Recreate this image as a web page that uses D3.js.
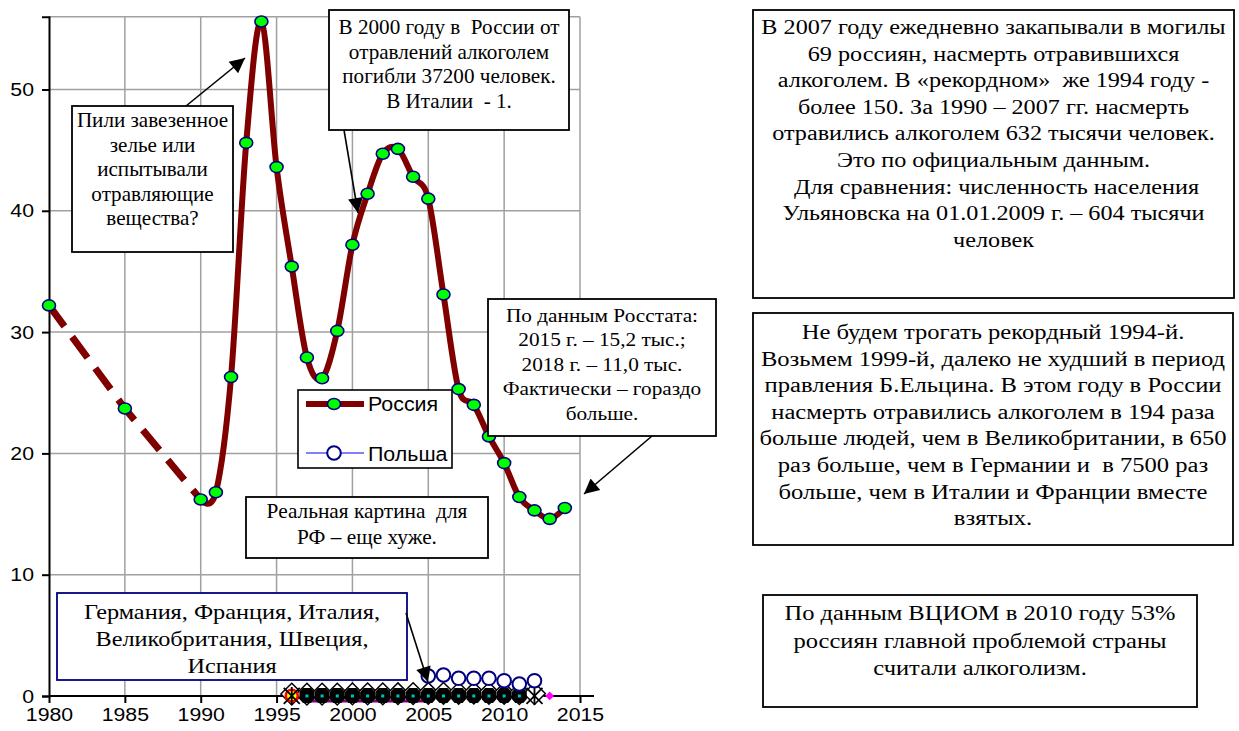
<!DOCTYPE html>
<html>
<head>
<meta charset="utf-8">
<script src="https://cdn.jsdelivr.net/npm/d3@7/dist/d3.min.js"></script>
<style>
  html, body { margin: 0; padding: 0; background: #fff; }
  svg { display: block; }
</style>
</head>
<body>
<svg id="chart" width="1239" height="731"></svg>
<script>
// ---- data: deaths from alcohol poisoning, thousand people ----
const russiaYears = [1980, 1985, 1990, 1991, 1992, 1993, 1994, 1995, 1996, 1997, 1998, 1999, 2000,
  2001, 2002, 2003, 2004, 2005, 2006, 2007, 2008, 2009, 2010, 2011, 2012, 2013, 2014];
const russiaValues = [32.2, 23.7, 16.2, 16.8, 26.3, 45.6, 55.6, 43.6, 35.4, 27.9, 26.2, 30.1, 37.2,
  41.4, 44.7, 45.1, 42.8, 41.0, 33.1, 25.3, 24.0, 21.4, 19.2, 16.4, 15.3, 14.6, 15.5];

const polandYears = [2005, 2006, 2007, 2008, 2009, 2010, 2011, 2012];
const polandValues = [1.65, 1.73, 1.46, 1.46, 1.46, 1.26, 0.99, 1.26];

// Western European countries (all close to zero)
const ukYears = [1996, 1997, 1998, 1999, 2000, 2001, 2002, 2003, 2004, 2005, 2006, 2007, 2008, 2009, 2010, 2011, 2012];
const ukValues = [0.16, 0.15, 0.16, 0.16, 0.17, 0.18, 0.18, 0.19, 0.2, 0.21, 0.22, 0.22, 0.23, 0.22, 0.21, 0.2, 0.2];
const germanyYears = [1997, 1998, 1999, 2000, 2001, 2002, 2003, 2004, 2005, 2006, 2007, 2008, 2009, 2010, 2011];
const germanyValues = [0.05, 0.05, 0.05, 0.05, 0.05, 0.05, 0.05, 0.05, 0.05, 0.05, 0.05, 0.05, 0.05, 0.05, 0.05];
const swedenYears = [1996];
const swedenValues = [0.03];
const franceYears = [1996, 2012];
const franceValues = [0.004, 0.004];
const italyYears = [1997, 1998, 1999, 2000, 2001, 2002, 2003, 2004, 2005, 2006, 2007, 2008, 2009, 2010, 2011, 2012];
const italyValues = [0.002, 0.002, 0.002, 0.002, 0.002, 0.002, 0.002, 0.002, 0.002, 0.002, 0.002, 0.002, 0.002, 0.002, 0.002, 0.002];
const spainYears = [1997, 1998, 1999, 2000, 2001, 2002, 2003, 2004, 2005, 2006, 2007, 2008, 2009, 2010, 2011, 2012, 2013];
const spainValues = [0.01, 0.01, 0.01, 0.01, 0.01, 0.01, 0.01, 0.01, 0.01, 0.01, 0.01, 0.01, 0.01, 0.01, 0.01, 0.01, 0.01];

const xTicks = [1980, 1985, 1990, 1995, 2000, 2005, 2010, 2015];
const yTicks = [0, 10, 20, 30, 40, 50];
const legendLabels = ["Россия", "Польша"];

// ---- annotation texts ----
const noteDrink = ["Пили завезенное", "зелье или", "испытывали", "отравляющие", "вещества?"];
const note2000 = ["В 2000 году в  России от", "отравлений алкоголем", "погибли 37200 человек.", "В Италии  - 1."];
const noteRosstat = ["По данным Росстата:", "2015 г. – 15,2 тыс.;", "2018 г. – 11,0 тыс.", "Фактически – гораздо", "больше."];
const noteReal = ["Реальная картина  для", "РФ – еще хуже."];
const noteEurope = ["Германия, Франция, Италия,", "Великобритания, Швеция,", "Испания"];
const note2007 = ["В 2007 году ежедневно закапывали в могилы", "69 россиян, насмерть отравившихся",
  "алкоголем. В «рекордном»  же 1994 году -", "более 150. За 1990 – 2007 гг. насмерть",
  "отравились алкоголем 632 тысячи человек.", "Это по официальным данным.",
  " Для сравнения: численность населения", "Ульяновска на 01.01.2009 г. – 604 тысячи", "человек"];
const note1999 = ["Не будем трогать рекордный 1994-й.", "Возьмем 1999-й, далеко не худший в период",
  "правления Б.Ельцина. В этом году в России", "насмерть отравились алкоголем в 194 раза",
  "больше людей, чем в Великобритании, в 650", "раз больше, чем в Германии и  в 7500 раз",
  "больше, чем в Италии и Франции вместе", "взятых."];
const noteVciom = ["По данным ВЦИОМ в 2010 году 53%", "россиян главной проблемой страны", "считали алкоголизм."];

// ---- layout ----
const svg = d3.select("#chart");
const plot = { left: 49, right: 580, top: 16.7, bottom: 696 };
const x = d3.scaleLinear().domain([1980, 2015]).range([plot.left, plot.right]);
const y = d3.scaleLinear().domain([0, 56]).range([plot.bottom, plot.top]);

const serif = "'Liberation Serif', 'Times New Roman', serif";
const sans = "'Liberation Sans', Arial, sans-serif";

// arrow head
svg.append("defs").append("marker")
  .attr("id", "arrow").attr("viewBox", "0 0 10 10")
  .attr("refX", 10).attr("refY", 5)
  .attr("markerWidth", 19).attr("markerHeight", 15)
  .attr("markerUnits", "userSpaceOnUse")
  .attr("orient", "auto")
  .append("path").attr("d", "M0,0 L10,5 L0,10 z").attr("fill", "#000");

// grid
const grid = svg.append("g").attr("stroke", "#a0a0a0").attr("stroke-width", 1.5);
grid.selectAll("line.v").data(xTicks.filter(d => d > 1980)).join("line")
  .attr("class", "v")
  .attr("x1", d => x(d)).attr("x2", d => x(d))
  .attr("y1", plot.top).attr("y2", plot.bottom);
grid.selectAll("line.h").data(yTicks.filter(d => d > 0).concat([56])).join("line")
  .attr("class", "h")
  .attr("x1", plot.left).attr("x2", plot.right)
  .attr("y1", d => y(d)).attr("y2", d => y(d));

// axes (labels slightly widened)
const tickSX = 1.12;
const yAxis = svg.append("g").attr("transform", `translate(${plot.left},0)`)
  .call(d3.axisLeft(y).tickValues(yTicks).tickSize(7).tickPadding(8).tickFormat(d3.format("d")));
const xAxis = svg.append("g").attr("transform", `translate(0,${plot.bottom})`)
  .call(d3.axisBottom(x).tickValues(xTicks).tickSize(7).tickPadding(5).tickFormat(d3.format("d")));
[yAxis, xAxis].forEach(a => {
  a.select(".domain").attr("stroke", "#000").attr("stroke-width", 2);
  a.selectAll(".tick line").attr("stroke", "#000").attr("stroke-width", 2);
  a.selectAll(".tick text").attr("font-family", sans).attr("font-size", 19).attr("fill", "#000")
    .attr("transform", `scale(${tickSX},1)`);
});
yAxis.selectAll(".tick text").attr("x", -15 / tickSX);
xAxis.select(".domain").attr("d", `M${plot.left},0H${plot.right + 14}`);

// ---- Western Europe, near zero ----
function seriesPoints(yrs, vals) { return yrs.map((d, i) => ({ yr: d, v: vals[i] })); }
const linePlain = d3.line().x(d => x(d.yr)).y(d => y(d.v));

const euro = svg.append("g");
// Spain: magenta dotted line with diamonds
euro.append("path").datum(seriesPoints(spainYears, spainValues))
  .attr("d", linePlain).attr("fill", "none").attr("stroke", "#ff00ff").attr("stroke-width", 2)
  .attr("stroke-dasharray", "2,3");
euro.selectAll("path.es").data(seriesPoints(spainYears, spainValues)).join("path")
  .attr("class", "es")
  .attr("d", d3.symbol(d3.symbolDiamond2, 50))
  .attr("transform", d => `translate(${x(d.yr)},${y(d.v)})`)
  .attr("fill", "#ff00ff");
// Italy: purple line under the markers
euro.append("path").datum(seriesPoints(italyYears.slice(0, 9), italyValues.slice(0, 9)))
  .attr("d", linePlain).attr("fill", "none").attr("stroke", "#800080").attr("stroke-width", 3)
  .attr("transform", "translate(0,5)");
// UK: white diamonds with black outline
euro.selectAll("path.uk").data(seriesPoints(ukYears, ukValues)).join("path")
  .attr("class", "uk")
  .attr("d", d3.symbol(d3.symbolDiamond2, 300))
  .attr("transform", d => `translate(${x(d.yr)},${y(d.v)})`)
  .attr("fill", "#fff").attr("stroke", "#000").attr("stroke-width", 1.5);
// Sweden: yellow/red circle
euro.selectAll("circle.se").data(seriesPoints(swedenYears, swedenValues)).join("circle")
  .attr("class", "se")
  .attr("cx", d => x(d.yr)).attr("cy", d => y(d.v)).attr("r", 6)
  .attr("fill", "#ffff00").attr("stroke", "#ff0000").attr("stroke-width", 2.5);
// Germany: black filled markers
euro.selectAll("path.de").data(seriesPoints(germanyYears, germanyValues)).join("path")
  .attr("class", "de")
  .attr("d", "M-4,-7.5H4L7.5,-3.5V3.5L4,7.5H-4L-7.5,3.5V-3.5Z")
  .attr("transform", d => `translate(${x(d.yr)},${y(d.v)})`)
  .attr("fill", "#000");
// Italy: cyan small squares
euro.selectAll("rect.it").data(seriesPoints(italyYears, italyValues)).join("rect")
  .attr("class", "it")
  .attr("x", d => x(d.yr) - 1.5).attr("y", d => y(d.v) - 1.5)
  .attr("width", 3).attr("height", 3).attr("fill", "#00c0c0");
// France: black asterisks
const star = euro.selectAll("g.fr").data(seriesPoints(franceYears, franceValues)).join("g")
  .attr("class", "fr")
  .attr("transform", d => `translate(${x(d.yr)},${y(d.v)})`);
star.append("path").attr("d", "M-8,-8L8,8M-8,8L8,-8M0,-9V9")
  .attr("stroke", "#000").attr("stroke-width", 1.8).attr("fill", "none");

// ---- Poland ----
const polPts = seriesPoints(polandYears, polandValues);
svg.append("path").datum(polPts).attr("d", linePlain)
  .attr("fill", "none").attr("stroke", "#0000ff").attr("stroke-width", 1.2);
svg.selectAll("circle.pl").data(polPts).join("circle")
  .attr("class", "pl")
  .attr("cx", d => x(d.yr)).attr("cy", d => y(d.v)).attr("r", 6.8)
  .attr("fill", "#fff").attr("stroke", "#000080").attr("stroke-width", 2);

// ---- Russia ----
const rusPts = seriesPoints(russiaYears, russiaValues);
const rusEarly = rusPts.filter(d => d.yr <= 1990);
const rusLate = rusPts.filter(d => d.yr >= 1990);
svg.append("path").datum(rusEarly).attr("d", linePlain)
  .attr("fill", "none").attr("stroke", "#800000").attr("stroke-width", 7)
  .attr("stroke-dasharray", "26,13");
svg.append("path").datum(rusLate)
  .attr("d", d3.line().x(d => x(d.yr)).y(d => y(d.v)).curve(d3.curveCatmullRom.alpha(0)))
  .attr("fill", "none").attr("stroke", "#800000").attr("stroke-width", 6)
  .attr("stroke-linejoin", "round");
svg.selectAll("ellipse.ru").data(rusPts).join("ellipse")
  .attr("class", "ru")
  .attr("cx", d => x(d.yr)).attr("cy", d => y(d.v)).attr("rx", 6.5).attr("ry", 5.5)
  .attr("fill", "#00ff00").attr("stroke", "#000080").attr("stroke-width", 1.6);

// ---- legend ----
const lg = svg.append("g");
lg.append("rect").attr("x", 298).attr("y", 390).attr("width", 154).attr("height", 78)
  .attr("fill", "#fff").attr("stroke", "#000").attr("stroke-width", 1.6);
lg.append("line").attr("x1", 306).attr("x2", 364).attr("y1", 404).attr("y2", 404)
  .attr("stroke", "#800000").attr("stroke-width", 6);
lg.append("ellipse").attr("cx", 334).attr("cy", 404).attr("rx", 6.5).attr("ry", 5.5)
  .attr("fill", "#00ff00").attr("stroke", "#000080").attr("stroke-width", 1.6);
lg.append("line").attr("x1", 306).attr("x2", 364).attr("y1", 453).attr("y2", 453)
  .attr("stroke", "#0000ff").attr("stroke-width", 1.2);
lg.append("circle").attr("cx", 334).attr("cy", 453).attr("r", 6.8)
  .attr("fill", "#fff").attr("stroke", "#000080").attr("stroke-width", 2);
lg.selectAll("text").data(legendLabels).join("text")
  .attr("x", 0).attr("y", 0)
  .attr("transform", (d, i) => `translate(368,${404 + i * 50}) scale(1.07,1)`)
  .attr("dy", "0.36em")
  .attr("font-family", sans).attr("font-size", 20).text(d => d);

// ---- annotation boxes ----
function note(box, lines, firstY, step, size, sx, stroke) {
  const g = svg.append("g");
  const cx = (box[0] + box[2]) / 2;
  g.append("rect").attr("x", box[0]).attr("y", box[1])
    .attr("width", box[2] - box[0]).attr("height", box[3] - box[1])
    .attr("fill", "#fff").attr("stroke", stroke || "#000").attr("stroke-width", 1.8);
  g.selectAll("text").data(lines).join("text")
    .attr("x", 0).attr("y", 0)
    .attr("transform", (d, i) => `translate(${cx},${firstY + i * step}) scale(${sx},1)`)
    .attr("dy", "0.35em").attr("text-anchor", "middle")
    .attr("font-family", serif).attr("font-size", size).attr("fill", "#000")
    .style("white-space", "pre").text(d => d);
}
function arrow(x1, y1, x2, y2) {
  svg.append("line").attr("x1", x1).attr("y1", y1).attr("x2", x2).attr("y2", y2)
    .attr("stroke", "#000").attr("stroke-width", 1.6).attr("marker-end", "url(#arrow)");
}

note([72, 106, 233, 252], noteDrink, 120, 24.6, 20, 1.056);
arrow(186, 106, 245, 58);
note([329, 10, 569, 130], note2000, 27, 24.5, 20, 1.058);
arrow(344, 130, 358, 213);
note([488, 299, 716, 436], noteRosstat, 315, 24.6, 19, 1.12);
arrow(652, 436, 584, 494);
note([246, 497, 488, 558], noteReal, 511, 25.5, 20, 1.067);
note([57, 593, 407, 680], noteEurope, 612, 27, 21, 1.157, "#000080");
arrow(406, 613, 428, 682);
note([753, 10, 1234, 298], note2007, 27, 26.6, 20, 1.21);
note([753, 313, 1233, 545], note1999, 332, 26.6, 20, 1.23);
note([763, 595, 1197, 707], noteVciom, 613, 27.5, 20, 1.227);
</script>
</body>
</html>
